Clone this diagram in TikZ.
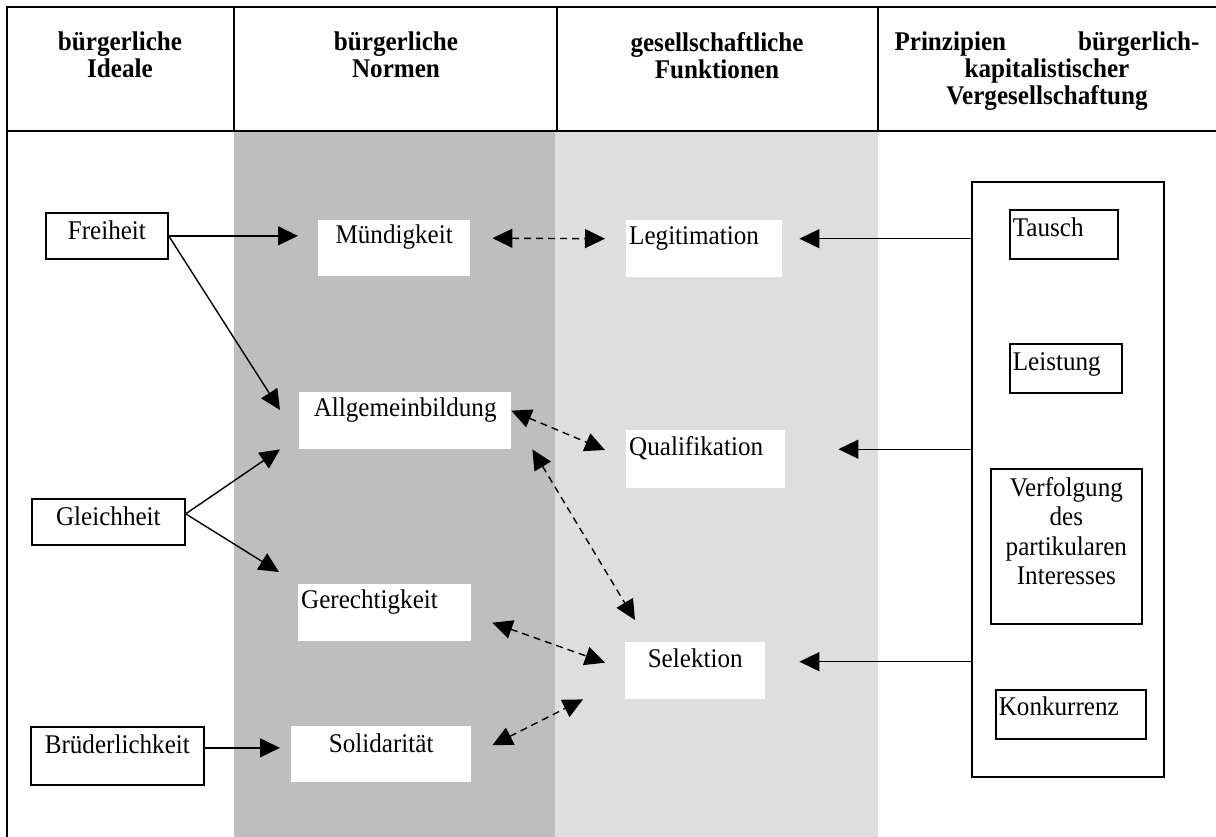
\documentclass[tikz,border=0pt]{standalone}
\usepackage{fontspec}
\setmainfont{Liberation Serif}[FakeStretch=0.93]
\usetikzlibrary{arrows.meta}
\definecolor{normgray}{RGB}{190,190,190}
\definecolor{funkgray}{RGB}{222,222,222}

\begin{document}
\begin{tikzpicture}[x=1pt,y=-1pt,font=\fontsize{27}{29.5}\selectfont,
  ibox/.style={draw,line width=1.7pt,inner sep=0pt,anchor=north west},
  wbox/.style={fill=white,inner sep=0pt,anchor=north west},
  lbox/.style={align=left,inner xsep=3pt,inner ysep=0pt,anchor=north west},
  arr/.style={line width=1.4pt,-{Triangle[length=20pt,width=19pt]}},
  darr/.style={line width=1.4pt,dash pattern=on 7pt off 5pt,{Triangle[length=20pt,width=19pt]}-{Triangle[length=20pt,width=19pt]}},
  head/.style={font=\fontsize{27}{27}\selectfont\bfseries,align=center,anchor=north,inner sep=0pt}]
\useasboundingbox (0,0) rectangle (1216,837);
% background columns
\fill[normgray] (234,131) rectangle (555,837);
\fill[funkgray] (555,131) rectangle (878,837);
\draw[line width=2.4pt] (1216,7) -- (7,7) -- (7,837);
\draw[line width=2.4pt] (7,131) -- (1216,131);
\foreach \x in {234,557,878}
  \draw[line width=2.4pt] (\x,7) -- (\x,131);
% header
\node[head] (h1) at (120,32) {bürgerliche\\Ideale};
\node[head] (h2) at (396,32) {bürgerliche\\Normen};
\node[head] (h3) at (717,32) {gesellschaftliche\\Funktionen};
\node[head] (h4) at (1047,32) {\hbox to 305pt{Prinzipien\hfill bürgerlich-}\\kapitalistischer\\Vergesellschaftung};
% ideals
\node[ibox,minimum width=122pt,text height=27pt,text depth=19pt] (frei) at (45,212) {Freiheit};
\node[ibox,minimum width=153pt,text height=27pt,text depth=19pt] (gleich) at (31,498) {Gleichheit};
\node[ibox,minimum width=173pt,text height=27pt,text depth=31pt] (brued) at (30,726) {Brüderlichkeit};
% norms
\node[wbox,minimum width=152pt,text height=23pt,text depth=33pt] (muend) at (318,220) {Mündigkeit};
\node[wbox,minimum width=212pt,text height=24pt,text depth=33pt] (allg) at (299,392) {Allgemeinbildung};
\node[wbox,lbox,fill=white,text width=167pt,text height=24pt,text depth=33pt] (ger) at (298,584) {Gerechtigkeit};
\node[wbox,minimum width=180pt,text height=26pt,text depth=30pt] (solid) at (291,726) {Solidarität};
% functions
\node[wbox,lbox,fill=white,text width=150pt,text height=24pt,text depth=33pt] (legit) at (626,220) {Legitimation};
\node[wbox,lbox,fill=white,text width=153pt,text height=25pt,text depth=33pt] (qual) at (626,430) {Qualifikation};
\node[wbox,minimum width=140pt,text height=25pt,text depth=32pt] (sel) at (625,642) {Selektion};
% principles
\node[ibox,minimum width=192pt,minimum height=595pt] (prinz) at (971,181) {};
\node[ibox,lbox,text width=102pt,text height=27pt,text depth=22pt] (tausch) at (1009,209) {Tausch};
\node[ibox,lbox,text width=106pt,text height=27pt,text depth=22pt] (leist) at (1009,343) {Leistung};
\node[ibox,minimum width=151pt,minimum height=155pt] (verf) at (990,468) {};
\node[anchor=north,align=center,inner sep=0pt] (verftxt) at ([yshift=-9pt]verf.north) {Verfolgung\\des\\partikularen\\Interesses};
\node[ibox,lbox,text width=144pt,text height=26pt,text depth=23pt] (konk) at (995,689) {Konkurrenz};
% ideals -> norms
\draw[arr,shorten >=20pt] (frei.east) -- (frei.east -| muend.west);
\draw[arr] (frei.east) -- ([xshift=-19pt,yshift=-18pt]allg.north west);
\draw[arr] ([yshift=8pt]gleich.east) -- ([xshift=-19pt]allg.south west);
\draw[arr] ([yshift=8pt]gleich.east) -- ([xshift=-19pt,yshift=12pt]ger.north west);
\coordinate (bq) at ([yshift=8pt]brued.east);
\draw[arr,shorten >=11pt] (bq) -- (bq -| solid.west);
% norms <-> functions
\draw[darr] ([xshift=22pt,yshift=10pt]muend.east) -- ([xshift=-21pt,yshift=10pt]legit.west);
\draw[darr] ([yshift=10pt]allg.east) -- ([xshift=-21pt,yshift=-20pt]qual.north west);
\draw[darr] ([xshift=21pt]allg.south east) -- ([xshift=10pt,yshift=22pt]sel.north west);
\draw[darr] ([xshift=21pt,yshift=-10pt]ger.east) -- ([xshift=-20pt,yshift=8pt]sel.west);
\draw[darr] ([xshift=21pt,yshift=9pt]solid.east) -- ([xshift=-42pt]sel.south west);
% principles -> functions
\coordinate (lq) at ([yshift=10pt]legit.east);
\coordinate (qq) at ([yshift=10pt]qual.east);
\coordinate (sq) at ([yshift=9pt]sel.east);
\draw[arr,shorten >=17pt] (lq -| prinz.west) -- (lq);
\draw[arr,shorten >=53pt] (qq -| prinz.west) -- (qq);
\draw[arr,shorten >=34pt] (sq -| prinz.west) -- (sq);
\end{tikzpicture}
\end{document}
